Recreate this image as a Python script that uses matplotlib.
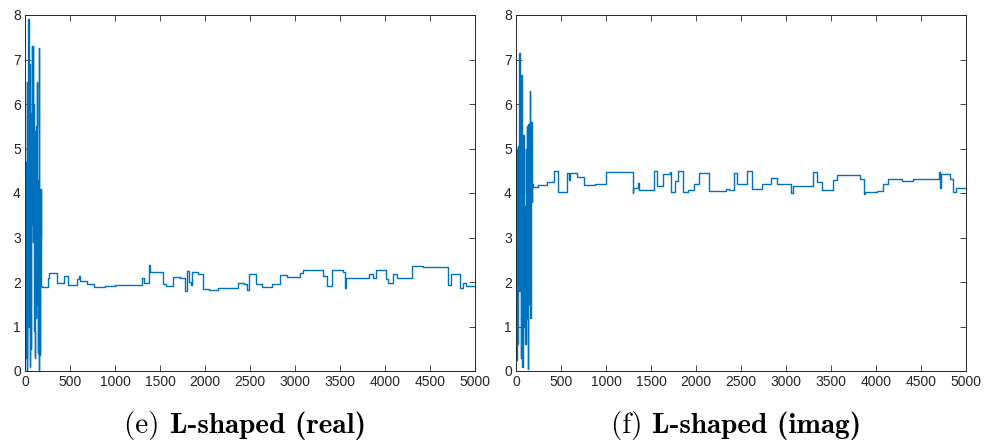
import numpy as np
import matplotlib
matplotlib.use("Agg")
import matplotlib.pyplot as plt
from matplotlib.offsetbox import TextArea, HPacker, AnnotationBbox

# ---- data (x = iteration, y = value, step-wise) ----
# (e) real part: noisy start
real_x0 = [0, 3, 6, 9, 12, 15, 18, 21, 24, 27, 30, 33, 36, 39, 42, 45, 48, 51,
           54, 57, 60, 64, 68, 72, 76, 80, 84, 88, 92, 96, 100, 104, 108, 112,
           116, 120, 124, 128, 132, 136, 140, 144, 148, 152, 156, 160, 164,
           168, 172, 176, 180]
real_y0 = [2.0, 0.4, 3.8, 1.0, 4.7, 0.3, 1.3, 0.0, 6.5, 3.0, 6.9, 2.5, 7.9, 4.4,
           5.5, 1.0, 6.9, 0.1, 4.8, 1.2, 4.9, 0.5, 4.7, 5.8, 7.3, 3.3, 7.3, 2.9,
           6.0, 1.3, 4.9, 0.9, 5.0, 0.3, 5.4, 1.2, 5.5, 2.0, 6.5, 1.5, 4.3, 0.4,
           3.0, 7.25, 0.0, 2.5, 4.1, 0.35, 3.0, 4.1, 1.9]
# (e) real part: plateaus
real_x1 = [185, 252, 270, 352, 433, 481, 581, 595, 610, 692, 767, 889, 1000,
           1300, 1320, 1374, 1385, 1537, 1570, 1648, 1722, 1745, 1778, 1804,
           1825, 1845, 1860, 1919, 1981, 2044, 2148, 2370, 2437, 2463, 2493,
           2563, 2630, 2741, 2833, 2915, 3056, 3085, 3307, 3359, 3407, 3530,
           3559, 3570, 3826, 3863, 3900, 4011, 4030, 4085, 4130, 4296, 4419,
           4704, 4730, 4833, 4870, 4896, 5000]
real_y1 = [1.89, 2.10, 2.21, 1.97, 2.13, 1.93, 2.07, 2.13, 2.02, 1.955, 1.88,
           1.92, 1.93, 2.08, 1.98, 2.38, 2.22, 1.96, 1.92, 2.11, 2.08, 2.10,
           1.80, 2.25, 2.00, 1.93, 2.22, 2.17, 1.84, 1.82, 1.87, 1.97, 1.96,
           1.83, 2.18, 1.95, 1.88, 1.95, 2.16, 2.12, 2.21, 2.26, 2.13, 1.91,
           2.28, 2.22, 1.86, 2.08, 2.17, 2.08, 2.26, 2.06, 1.97, 2.17, 2.08,
           2.37, 2.34, 1.93, 2.19, 1.86, 1.97, 1.90, 1.90]

# (f) imaginary part: noisy start
imag_x0 = [0, 3, 6, 9, 12, 15, 18, 21, 24, 27, 30, 34, 37, 40, 44, 48, 52, 56,
           60, 63, 67, 70, 74, 78, 82, 86, 90, 94, 98, 102, 106, 110, 114, 118,
           122, 126, 130, 133, 137, 141, 145, 150, 155, 159, 163, 167, 171,
           175, 180]
imag_y0 = [1.5, 0.25, 2.3, 1.2, 5.0, 0.6, 2.0, 5.05, 1.0, 3.5, 1.8, 6.2, 7.15,
           2.0, 4.9, 1.8, 6.6, 0.3, 6.65, 2.1, 4.95, 0.1, 3.4, 0.3, 5.3, 1.0,
           3.0, 1.1, 3.7, 0.6, 5.0, 0.9, 4.0, 1.2, 5.5, 1.2, 3.0, 0.05, 5.55,
           1.5, 5.55, 2.0, 6.3, 1.2, 5.55, 2.15, 5.6, 3.8, 4.2]
# (f) imaginary part: plateaus
imag_x1 = [185, 241, 267, 348, 426, 470, 570, 590, 605, 681, 759, 878, 996,
           1296, 1305, 1359, 1368, 1533, 1563, 1637, 1711, 1722, 1770, 1796,
           1852, 1915, 1978, 2037, 2141, 2333, 2363, 2422, 2452, 2481, 2563,
           2626, 2730, 2830, 2904, 3052, 3074, 3304, 3348, 3404, 3526, 3563,
           3822, 3867, 3880, 4007, 4074, 4130, 4285, 4415, 4700, 4712, 4725,
           4822, 4859, 4885, 5000]
imag_y1 = [4.14, 4.19, 4.18, 4.24, 4.50, 4.03, 4.44, 4.30, 4.46, 4.37, 4.18,
           4.21, 4.48, 4.00, 4.12, 4.22, 4.07, 4.50, 4.16, 4.42, 4.47, 4.02,
           4.28, 4.50, 4.02, 4.07, 4.21, 4.44, 4.04, 4.10, 4.06, 4.45, 4.20,
           4.21, 4.49, 4.09, 4.20, 4.34, 4.20, 4.01, 4.15, 4.47, 4.25, 4.07,
           4.29, 4.40, 4.32, 3.98, 4.02, 4.04, 4.20, 4.32, 4.28, 4.32, 4.47,
           4.12, 4.43, 4.31, 4.02, 4.12, 4.12]

panels = [
    (real_x0 + real_x1, real_y0 + real_y1, "(e) ", "L-shaped (real)"),
    (imag_x0 + imag_x1, imag_y0 + imag_y1, "(f) ", "L-shaped (imag)"),
]

xticks = np.arange(0, 5001, 500)
yticks = np.arange(0, 9, 1)

# ---- figure ----
W, H = 984, 447
fig = plt.figure(figsize=(W / 100, H / 100), dpi=100)
ax_left_px = [25, 516]
dark = (0.15, 0.15, 0.15)

for (xs, ys, tag, name), lpx in zip(panels, ax_left_px):
    ax = fig.add_axes([lpx / W, (H - 371) / H, 450 / W, 356 / H])
    ax.plot(xs, ys, drawstyle="steps-post", color="#0072BD", linewidth=1.0)
    ax.set_xlim(0, 5000)
    ax.set_ylim(0, 8)
    ax.set_xticks(xticks)
    ax.set_yticks(yticks)
    ax.tick_params(direction="in", length=4, width=0.6, top=True, right=True,
                   labelsize=10, colors=dark, pad=3)
    for lab in ax.get_xticklabels() + ax.get_yticklabels():
        lab.set_fontfamily("Liberation Sans")
    for sp in ax.spines.values():
        sp.set_color(dark)
        sp.set_linewidth(0.7)

    # caption: "(e) " roman + bold name, centred under the axes
    t1 = TextArea(tag, textprops=dict(family="cmr10", size=21, color="black"))
    t2 = TextArea(name, textprops=dict(family="cmb10", size=21, color="black"))
    box = HPacker(children=[t1, t2], align="baseline", pad=0, sep=0)
    ab = AnnotationBbox(box, ((lpx + 220) / W, (H - 425) / H),
                        xycoords="figure fraction", frameon=False,
                        box_alignment=(0.5, 0.5))
    fig.add_artist(ab)

fig.savefig("out.png", dpi=100)
